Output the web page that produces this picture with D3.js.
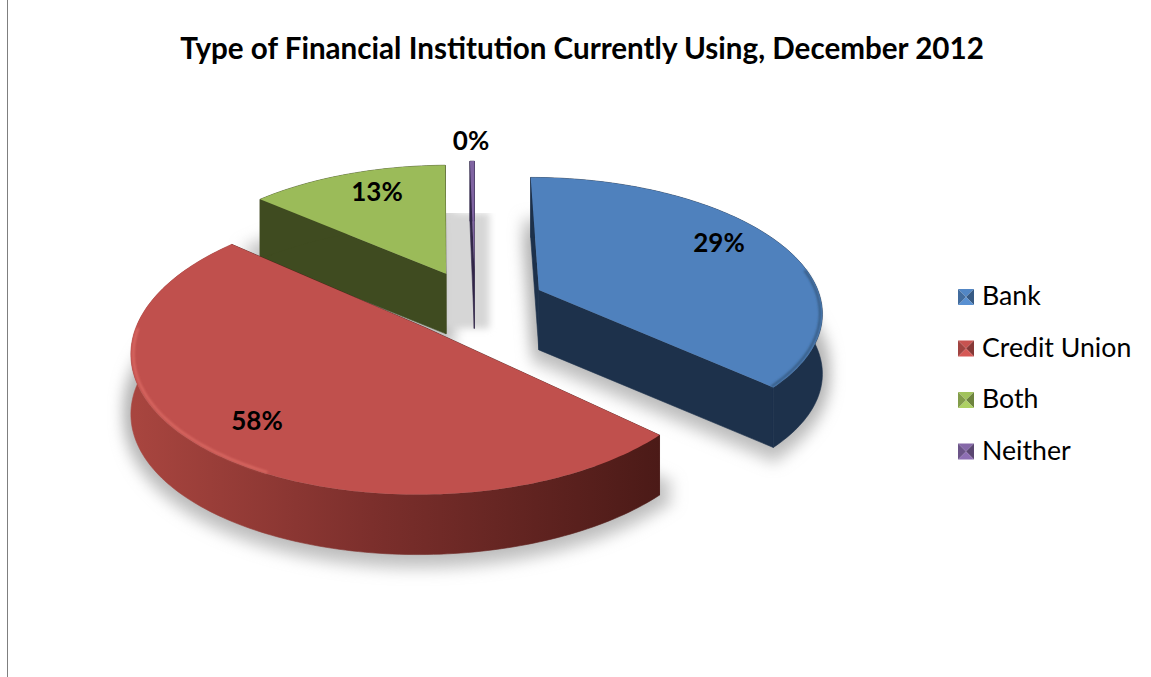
<!DOCTYPE html>
<html lang="en">
<head>
<meta charset="utf-8">
<title>Type of Financial Institution Currently Using, December 2012</title>
<script src="https://d3js.org/d3.v7.min.js"></script>
<style>
    body { margin: 0; background: #fff; }
    svg { display: block; }
    text { font-family: Lato, "Open Sans", sans-serif; fill: #000; }
    .title { font-size: 29.6px; font-weight: 700; }
    .pct { font-size: 26px; font-weight: 700; text-anchor: middle; }
    .legend { font-size: 26.7px; }
</style>
</head>
<body>
<script>
// data
const categories = ["Bank", "Credit Union", "Both", "Neither"];
const labelValues = [29, 58, 13, 0];            // percentages printed on the chart
const sliceShares = [36.9, 49.5, 13.3, 0.3];    // share of the circle each slice is really drawn with
const titleText = "Type of Financial Institution Currently Using, December 2012";

// styles
const topColors = ["#4f81bd", "#c0504d", "#9bbb59", "#8064a2"];
const wallColors = ["#1d314b", "#4f1c19", "#3f4b20", "#33284a"];
const labelPos = [[719, 252], [257, 430], [377, 201], [471, 150]];
const drawOrder = [3, 2, 0, 1];

// layout
const w = 1151, h = 677;
const cx = 475, cy = 303;   // pie centre before the slices are pulled out
const rx = 283, ry = 133;   // horizontal and vertical radius
const persp = 0.15;         // the front of the pie is nearer the viewer
const explode = [0.25, 0.248, 0.25, 0.27];
const depth = 60;

const svg = d3.select("body").append("svg").attr("width", w).attr("height", h);
const defs = svg.append("defs");

defs.append("filter").attr("id", "blur")
    .attr("x", "-30%").attr("y", "-30%").attr("width", "160%").attr("height", "160%")
    .append("feGaussianBlur").attr("stdDeviation", 7);
defs.append("filter").attr("id", "soft")
    .attr("x", "-50%").attr("y", "-10%").attr("width", "200%").attr("height", "120%")
    .append("feGaussianBlur").attr("stdDeviation", 3.5);
defs.append("filter").attr("id", "rim")
    .attr("x", "-10%").attr("y", "-10%").attr("width", "120%").attr("height", "120%")
    .append("feGaussianBlur").attr("stdDeviation", 0.9);

// dark wall on the right, lighter on the left of the red slice
const redGrad = defs.append("linearGradient").attr("id", "redWall")
    .attr("gradientUnits", "userSpaceOnUse")
    .attr("x1", 135).attr("x2", 660).attr("y1", 0).attr("y2", 0);
redGrad.append("stop").attr("offset", "0%").attr("stop-color", "#a8453f");
redGrad.append("stop").attr("offset", "45%").attr("stop-color", "#7c2f2c");
redGrad.append("stop").attr("offset", "100%").attr("stop-color", "#4b1a17");

// left edge of the page
svg.append("line").attr("x1", 7.5).attr("x2", 7.5).attr("y1", 0).attr("y2", h)
    .attr("stroke", "#7f7f7f").attr("stroke-width", 1);

svg.append("text").attr("class", "title")
    .attr("x", 582).attr("y", 59).attr("text-anchor", "middle")
    .text(titleText);

const arcs = d3.pie().sort(null).value(d => d)(sliceShares);

// ground plane (unit circle) to screen
function project(X, Y) {
    const s = 1 / (1 - persp * Y);
    return [cx + rx * X * s, cy + ry * Y * s];
}

// a point of slice d at angle a (0 = back, clockwise) and radius r
function slicePoint(d, a, r) {
    const mid = (d.startAngle + d.endAngle) / 2;
    const e = explode[d.index];
    return project(
        e * Math.sin(mid) + r * Math.sin(a),
        -e * Math.cos(mid) - r * Math.cos(a)
    );
}

function arcPoints(d, a0, a1, r = 1) {
    const n = Math.max(2, Math.ceil((a1 - a0) / 0.02));
    return d3.range(n + 1).map(i => slicePoint(d, a0 + (a1 - a0) * i / n, r));
}

const line = d3.line();
const closed = pts => line(pts) + "Z";
const shift = (pts, dy) => pts.map(p => [p[0], p[1] + dy]);

// soft shadows lying under the pie
const shadows = svg.append("g").attr("filter", "url(#blur)");
[0, 1, 2].forEach(i => {
    const d = arcs[i];
    const face = [slicePoint(d, 0, 0)].concat(arcPoints(d, d.startAngle, d.endAngle));
    [48, 58, 68].forEach(dy => {
        shadows.append("path").attr("d", closed(shift(face, dy)))
            .attr("fill", "#a8a8a8").attr("stroke", "#a8a8a8").attr("stroke-width", 16)
            .attr("opacity", 0.5);
    });
});

// grey band behind the thin slice
const apex = slicePoint(arcs[3], 0, 0);
svg.append("rect").attr("x", apex[0] - 30).attr("y", 213)
    .attr("width", 45).attr("height", apex[1] + depth - 213)
    .attr("fill", "#d6d6d6").attr("filter", "url(#soft)");
svg.append("rect").attr("x", apex[0] - 30).attr("y", 190)
    .attr("width", 65).attr("height", 23).attr("fill", "#fff");

drawOrder.forEach(i => {
    const d = arcs[i];
    const g = svg.append("g");
    const a = slicePoint(d, 0, 0);
    const outer = arcPoints(d, d.startAngle, d.endAngle);
    const wall = i === 1 ? "url(#redWall)" : wallColors[i];

    // cut faces
    [outer[0], outer[outer.length - 1]].forEach(p => {
        g.append("path")
            .attr("d", closed([a, p, [p[0], p[1] + depth], [a[0], a[1] + depth]]))
            .attr("fill", wallColors[i])
            .attr("stroke", wallColors[i]).attr("stroke-width", 0.6);
    });
    // round wall
    g.append("path")
        .attr("d", closed(outer.concat(shift(outer, depth).reverse())))
        .attr("fill", wall)
        .attr("stroke", wall).attr("stroke-width", 0.6);
    // top face
    g.append("path")
        .attr("d", closed([a].concat(outer)))
        .attr("fill", topColors[i]);
});

// bevel just inside the rim of the two big slices
const redArc = arcs[1];
svg.append("path")
    .attr("d", line(arcPoints(redArc, Math.PI * 1.15, Math.PI * 1.5, 0.992)))
    .attr("fill", "none").attr("stroke", "#db6a64").attr("stroke-width", 2.2)
    .attr("filter", "url(#rim)");
const blueArc = arcs[0];
svg.append("path")
    .attr("d", line(arcPoints(blueArc, Math.PI * 0.45, blueArc.endAngle, 0.992)))
    .attr("fill", "none").attr("stroke", "#35587f").attr("stroke-width", 2.2)
    .attr("filter", "url(#rim)");

// value labels
svg.selectAll(".pct").data(labelValues).join("text")
    .attr("class", "pct")
    .attr("x", (d, i) => labelPos[i][0])
    .attr("y", (d, i) => labelPos[i][1])
    .text(d => d + "%");

// legend
const legendY = d3.scalePoint().domain(categories).range([297, 451.5]);
const size = 16, lx = 958;
const legend = svg.selectAll(".item").data(categories).join("g").attr("class", "item")
    .attr("transform", d => "translate(" + lx + "," + (legendY(d) - size / 2) + ")");

legend.each(function (d, i) {
    const c = d3.color(topColors[i]);
    const m = [size / 2, size / 2];
    const tri = [
        [[0, 0], [size, 0], m, c.brighter(0.1)],
        [[size, 0], [size, size], m, c.darker(1)],
        [[size, size], [0, size], m, c.brighter(0.3)],
        [[0, size], [0, 0], m, c.darker(0.5)]
    ];
    d3.select(this).selectAll("path").data(tri).join("path")
        .attr("d", t => closed(t.slice(0, 3)))
        .attr("fill", t => t[3]);
});

legend.append("text").attr("class", "legend")
    .attr("x", 24).attr("y", size / 2 + 8)
    .text(d => d);
</script>
</body>
</html>
